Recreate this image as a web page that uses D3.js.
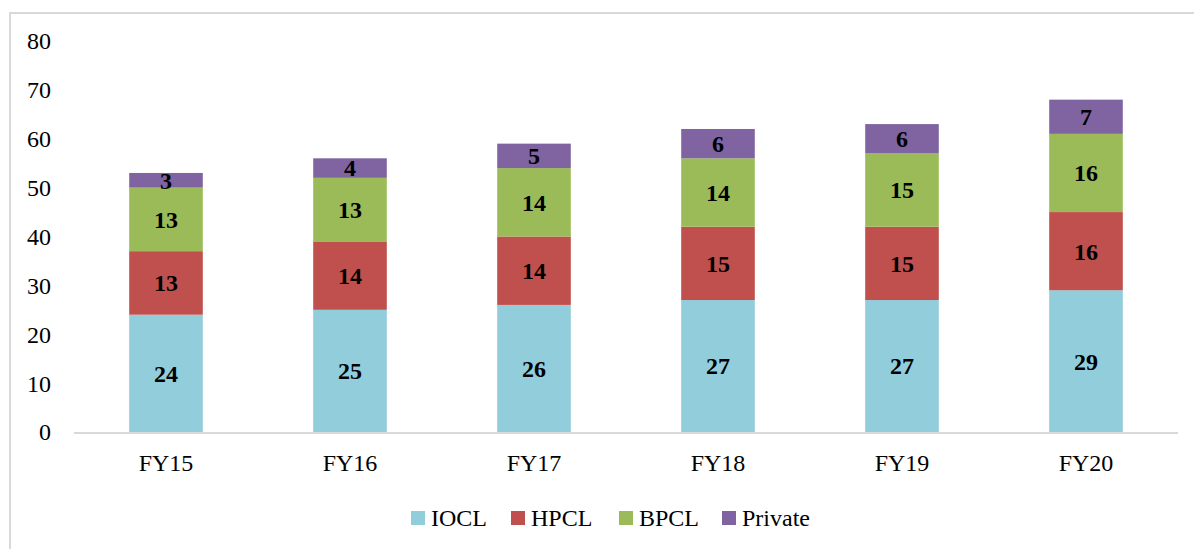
<!DOCTYPE html>
<html>
<head>
<meta charset="utf-8">
<script src="https://cdn.jsdelivr.net/npm/d3@7"></script>
<style>
  body { margin: 0; background: #fff; }
  text { font-family: "Liberation Serif", "Times New Roman", serif; }
</style>
</head>
<body>
<script>
// values
const years = ["FY15", "FY16", "FY17", "FY18", "FY19", "FY20"];
const iocl = [24, 25, 26, 27, 27, 29];
const hpcl = [13, 14, 14, 15, 15, 16];
const bpcl = [13, 13, 14, 14, 15, 16];
const priv = [3, 4, 5, 6, 6, 7];
const seriesNames = ["IOCL", "HPCL", "BPCL", "Private"];
const yTicks = [0, 10, 20, 30, 40, 50, 60, 70, 80];

const colors = {IOCL: "#92cddc", HPCL: "#c0504d", BPCL: "#9bbb59", Private: "#8064a2"};

const W = 1194, H = 549;
const margin = {left: 74, right: 16, top: 41, bottom: 117};

const svg = d3.select("body").append("svg")
  .attr("width", W)
  .attr("height", H);

// outer chart frame (right and bottom edges fall off the picture)
svg.append("rect")
  .attr("x", 10).attr("y", 13)
  .attr("width", W + 20).attr("height", H + 20)
  .attr("fill", "none")
  .attr("stroke", "#d9d9d9")
  .attr("stroke-width", 2);

// build rows for the stack
const rows = years.map((yr, i) => ({
  year: yr, IOCL: iocl[i], HPCL: hpcl[i], BPCL: bpcl[i], Private: priv[i]
}));
const stacked = d3.stack().keys(seriesNames)(rows);

const x = d3.scaleBand()
  .domain(years)
  .range([margin.left, W - margin.right])
  .paddingInner(0.6)
  .paddingOuter(0.3);

const y = d3.scaleLinear()
  .domain([0, 80])
  .range([H - margin.bottom, margin.top]);

// y tick labels (no axis line)
svg.append("g")
  .selectAll("text")
  .data(yTicks)
  .enter().append("text")
  .attr("x", 51)
  .attr("y", d => y(d))
  .attr("dy", "0.35em")
  .attr("text-anchor", "end")
  .attr("font-size", 24)
  .attr("fill", "#000")
  .text(d => d);

// bars
const layer = svg.append("g")
  .selectAll("g")
  .data(stacked)
  .enter().append("g")
  .attr("fill", d => colors[d.key]);

layer.selectAll("rect")
  .data(d => d)
  .enter().append("rect")
  .attr("x", d => x(d.data.year))
  .attr("width", x.bandwidth())
  .attr("y", d => y(d[1]))
  .attr("height", d => y(d[0]) - y(d[1]));

// data labels
layer.selectAll("text")
  .data(d => d.map(v => ({v: v, key: d.key})))
  .enter().append("text")
  .attr("x", d => x(d.v.data.year) + x.bandwidth() / 2)
  .attr("y", d => (y(d.v[0]) + y(d.v[1])) / 2)
  .attr("dy", "0.35em")
  .attr("text-anchor", "middle")
  .attr("font-size", 24)
  .attr("font-weight", "bold")
  .attr("fill", "#000")
  .text(d => d.v.data[d.key]);

// x axis baseline
svg.append("line")
  .attr("x1", margin.left).attr("x2", W - margin.right)
  .attr("y1", y(0) + 1).attr("y2", y(0) + 1)
  .attr("stroke", "#d9d9d9")
  .attr("stroke-width", 2);

// x labels
svg.append("g")
  .selectAll("text")
  .data(years)
  .enter().append("text")
  .attr("x", d => x(d) + x.bandwidth() / 2)
  .attr("y", 463)
  .attr("dy", "0.35em")
  .attr("text-anchor", "middle")
  .attr("font-size", 24)
  .attr("fill", "#000")
  .text(d => d);

// legend
const legendX = [411, 511, 619, 722];
const legend = svg.append("g")
  .selectAll("g")
  .data(seriesNames)
  .enter().append("g")
  .attr("transform", (d, i) => "translate(" + legendX[i] + ",511)");

legend.append("rect")
  .attr("width", 14).attr("height", 14)
  .attr("fill", d => colors[d]);

legend.append("text")
  .attr("x", 20)
  .attr("y", 7)
  .attr("dy", "0.35em")
  .attr("font-size", 24)
  .attr("fill", "#000")
  .text(d => d);
</script>
</body>
</html>
